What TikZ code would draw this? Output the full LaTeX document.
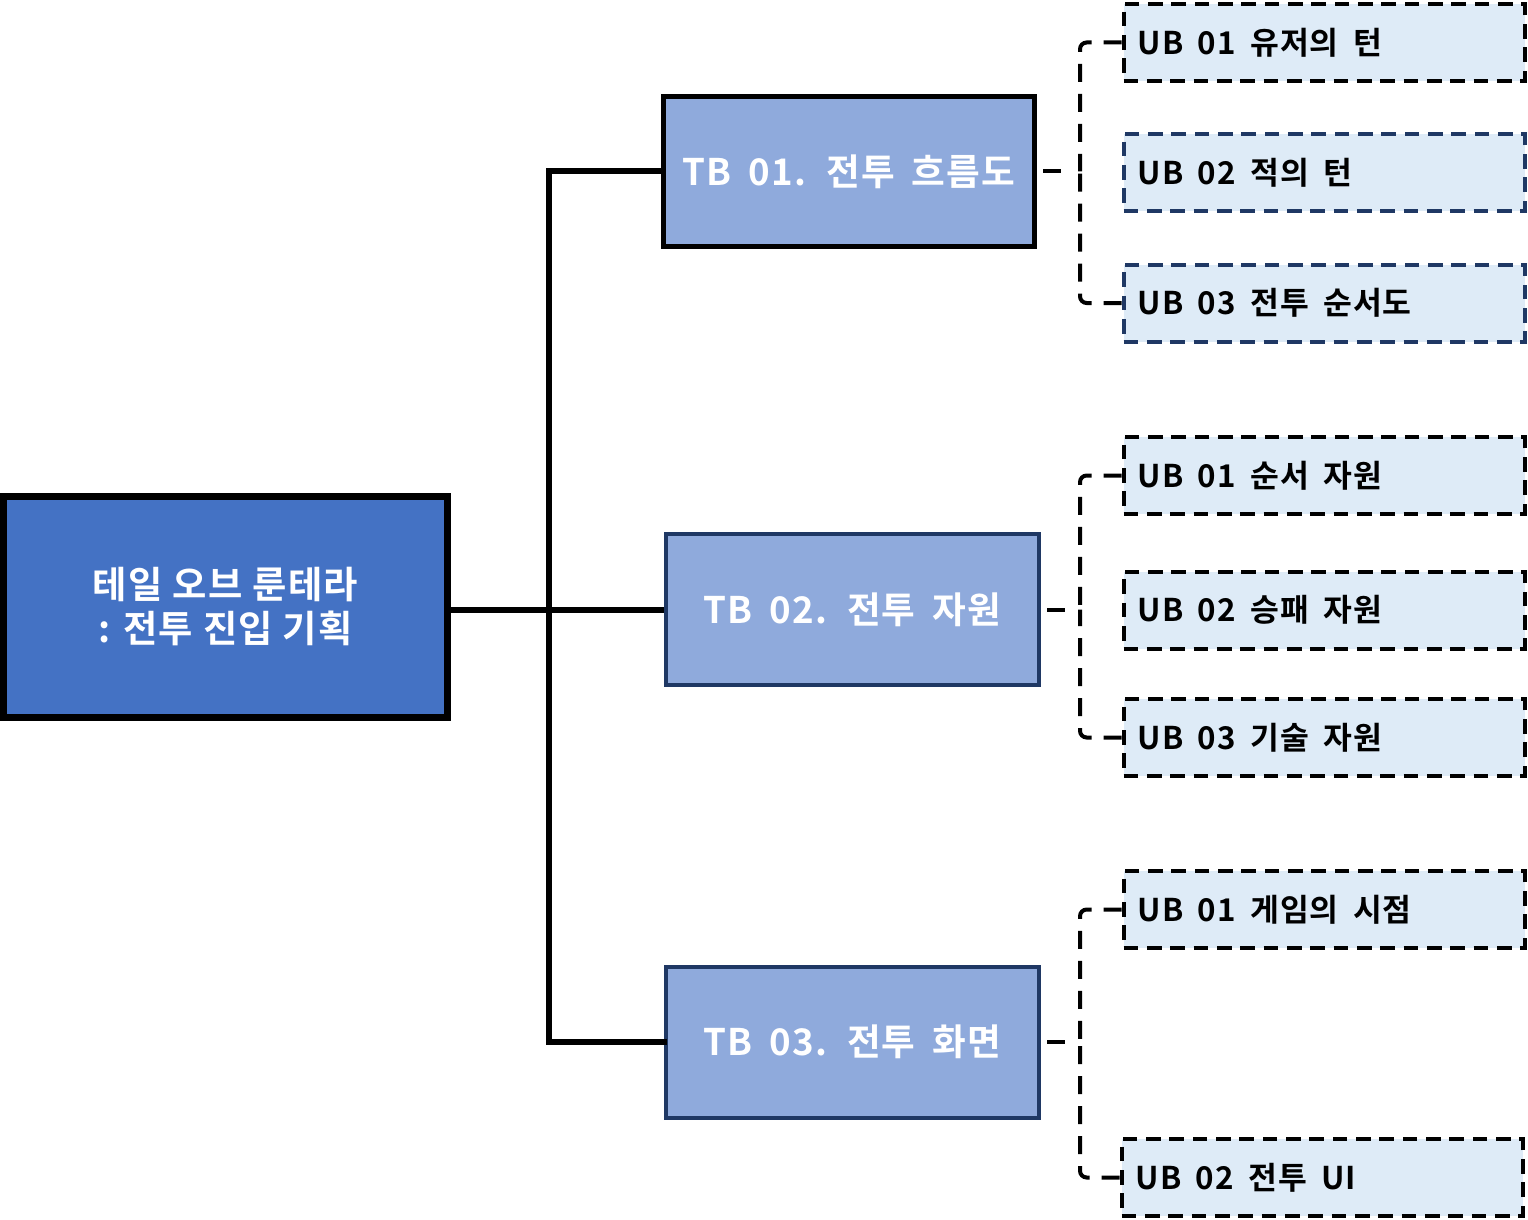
\documentclass[tikz,border=0pt]{standalone}
\usepackage{fontspec}
\setmainfont{Noto Sans CJK KR Bold}[LetterSpace=3.5]
\newfontfamily\boxfont{Noto Sans CJK KR Bold}[LetterSpace=3,WordSpace=1.8]
\definecolor{mainfill}{HTML}{4472C4}
\definecolor{tbfill}{HTML}{8FAADC}
\definecolor{ubfill}{HTML}{DEEBF7}
\definecolor{navy}{HTML}{1F3864}
\begin{document}
\begin{tikzpicture}[x=0.75pt,y=-0.75pt,
  mainbox/.style={draw=black,line width=5.25pt,fill=mainfill,inner sep=0pt,
    minimum width=444*0.75pt,minimum height=221*0.75pt,text=white,
    font=\fontsize{28}{33}\selectfont,align=center},
  tbbox/.style={draw=navy,line width=3pt,fill=tbfill,inner sep=0pt,
    minimum width=373*0.75pt,minimum height=151*0.75pt,text=white,
    font=\boxfont\fontsize{27.5}{30}\selectfont},
  ubbox/.style={draw=navy,line width=3pt,dash pattern=on 11pt off 6.5pt,fill=ubfill,
    inner sep=0pt,minimum width=401*0.75pt,minimum height=77*0.75pt},
  ubtext/.style={anchor=west,inner sep=0pt,font=\boxfont\fontsize{23.5}{26}\selectfont,text=black},
  trunk/.style={line width=4.5pt,black},
  bracket/.style={line width=3pt,black,dash pattern=on 13.5pt off 9pt,rounded corners=5pt},
  stub/.style={line width=3pt,black}
]
\useasboundingbox (0,0) rectangle (1528,1220);

% main box
\node[mainbox] (main) at (225.5,606.5) {테일 오브 룬테라\\: 전투 진입 기획};

% TB boxes
\node[tbbox,draw=black,line width=3.75pt,minimum width=371*0.75pt,minimum height=150*0.75pt] (tb1) at (849,171.5) {TB 01. 전투 흐름도};
\node[tbbox] (tb2) at (852.5,609.5) {TB 02. 전투 자원};
\node[tbbox] (tb3) at (852.5,1042) {TB 03. 전투 화면};

% trunk
\draw[trunk] (tb2.west -| main.east) -- (tb2.west);
\draw[trunk,line cap=rect] (tb1.west) -- (549,171.5) -- (549,1042) -- (tb3.west);

% UB boxes group 1
\node[ubbox,draw=black] (u11) at (1324,42.5) {};
\node[ubbox] (u12) at (1324,172.5) {};
\node[ubbox] (u13) at (1324,303) {};
% group 2
\node[ubbox,draw=black] (u21) at (1324,475.5) {};
\node[ubbox,draw=black] (u22) at (1324,610) {};
\node[ubbox,draw=black] (u23) at (1324,737.5) {};
% group 3
\node[ubbox,draw=black] (u31) at (1324,909.5) {};
\node[ubbox,draw=black] (u32) at (1322,1177.5) {};

% UB texts
\node[ubtext] (t11) at ([xshift=16*0.75pt]u11.west) {UB 01 유저의 턴};
\node[ubtext] (t12) at ([xshift=16*0.75pt]u12.west) {UB 02 적의 턴};
\node[ubtext] (t13) at ([xshift=16*0.75pt]u13.west) {UB 03 전투 순서도};
\node[ubtext] (t21) at ([xshift=16*0.75pt]u21.west) {UB 01 순서 자원};
\node[ubtext] (t22) at ([xshift=16*0.75pt]u22.west) {UB 02 승패 자원};
\node[ubtext] (t23) at ([xshift=16*0.75pt]u23.west) {UB 03 기술 자원};
\node[ubtext] (t31) at ([xshift=16*0.75pt]u31.west) {UB 01 게임의 시점};
\node[ubtext] (t32) at ([xshift=16*0.75pt]u32.west) {UB 02 전투 UI};

% brackets
\foreach \tb/\top/\bot in {tb1/u11/u13, tb2/u21/u23, tb3/u31/u32}{
  \draw[stub] ([xshift=6*0.75pt]\tb.east) -- ([xshift=24*0.75pt]\tb.east);
  \draw[bracket] (\top.west) -| (1080,0 |- \tb.east);
  \draw[bracket] (\bot.west) -| (1080,0 |- \tb.east);
}
\end{tikzpicture}
\end{document}
